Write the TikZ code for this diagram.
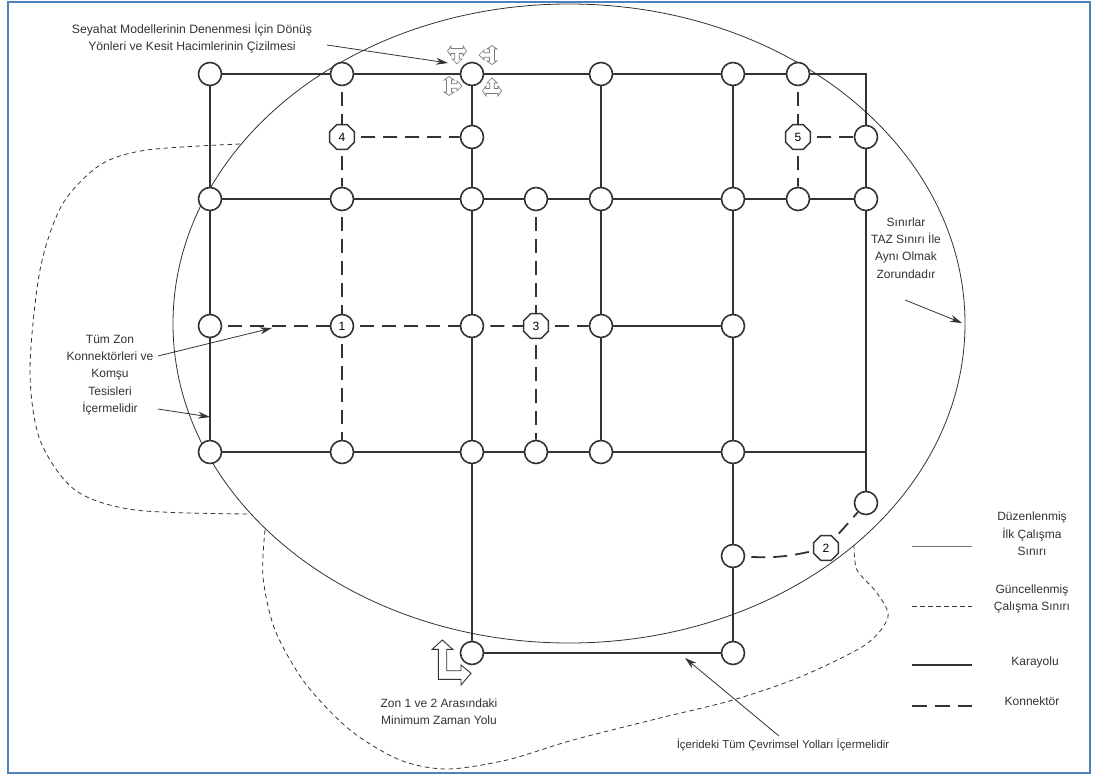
\documentclass[tikz,border=0pt]{standalone}
\usepackage{fontspec}
\setmainfont{Liberation Sans}
\usetikzlibrary{shapes.geometric,arrows.meta}
\definecolor{ink}{HTML}{333333}
\definecolor{frameblue}{HTML}{4F81BD}
\tikzset{
 x=1pt,y=-1pt,
 junc/.style={circle,draw=ink,line width=1.6pt,fill=white,minimum size=23pt,inner sep=0pt,font=\fontsize{12}{12}\selectfont},
 octa/.style={regular polygon,regular polygon sides=8,draw=ink,line width=1.5pt,fill=white,minimum size=27pt,inner sep=0pt,font=\fontsize{12}{12}\selectfont},
 road/.style={draw=ink,line width=1.7pt},
 conn/.style={draw=ink,line width=1.8pt,dash pattern=on 14pt off 8pt,dash phase=16pt},
 bound/.style={draw=ink,line width=.8pt},
 upd/.style={draw=ink,line width=.8pt,dash pattern=on 4.5pt off 3.5pt},
 lbl/.style={align=center,text=ink,inner sep=0pt,font=\fontsize{12}{17.3}\selectfont},
 note/.style={draw=ink,line width=.8pt,-{Stealth[length=12pt,width=7pt]}},
 turn/.style={draw=ink!65,line width=.7pt,fill=white},
 bigturn/.style={draw=ink,line width=.9pt,fill=white}
}
\newcommand{\tarrow}[3]{\begin{scope}[shift={(#1,#2)},rotate=#3]
\draw[turn] (0,13)--(5,8)--(2.2,8)--(2.2,2.5)--(6,2.5)--(6,5)--(9.5,0)--(6,-5)--(6,-2.5)--(-6,-2.5)--(-6,-5)--(-9.5,0)--(-6,5)--(-6,2.5)--(-2.2,2.5)--(-2.2,8)--(-5,8)--cycle;
\end{scope}}
\begin{document}
\begin{tikzpicture}
\useasboundingbox (0,0) rectangle (1093,776);
\fill[white] (0,0) rectangle (1093,776);
\draw[frameblue,line width=2pt] (8,2.5) rectangle (1089.5,773);
% study boundaries
\draw[bound] (569,323.5) ellipse [x radius=396,y radius=319.5];
\draw[upd] plot[smooth] coordinates {(240,144) (147,150) (100,165) (62,205) (40,270) (30,370) (40,440) (75,490) (135,510) (248,514)};
\draw[upd] plot[smooth] coordinates {(265,530) (263,577) (275,630) (305,683) (350,730) (400,760) (447,769) (507,760) (573,740) (660,718) (733,700) (800,677) (865,645) (888,617) (877,593) (857,570) (854,545)};
% nodes
\foreach \n/\x/\y in {a1/210/74,a2/342/74,a3/472/74,a4/601/74,a5/733/74,a6/798/74,
 b3/472/137,b8/866/137,
 c1/210/199,c2/342/199,c3/472/199,c4/536/199,c5/601/199,c6/733/199,c7/798/199,c8/866/199,
 d1/210/326,d3/472/326,d5/601/326,d6/733/326,
 e1/210/452,e2/342/452,e3/472/452,e4/536/452,e5/601/452,e6/733/452,
 f8/866/503,g6/733/556,h3/472/653,h6/733/653}
 {\node[junc] (\n) at (\x,\y) {};}
\node[junc] (d2) at (342,326) {1};
\node[octa] (o2) at (826,548) {2};
\node[octa] (o3) at (536,326) {3};
\node[octa] (o4) at (342,137) {4};
\node[octa] (o5) at (798,137) {5};
% roads
\draw[road] (a1)--(a2); \draw[road] (a2)--(a3); \draw[road] (a3)--(a4); \draw[road] (a4)--(a5); \draw[road] (a5)--(a6);
\draw[road] (a6)-|(b8); \draw[road] (b8)--(c8); \draw[road] (c8)--(f8);
\draw[road] (a1)--(c1); \draw[road] (c1)--(d1); \draw[road] (d1)--(e1);
\draw[road] (c1)--(c2); \draw[road] (c2)--(c3); \draw[road] (c3)--(c4); \draw[road] (c4)--(c5); \draw[road] (c5)--(c6); \draw[road] (c6)--(c7); \draw[road] (c7)--(c8);
\draw[road] (d5)--(d6);
\draw[road] (e1)--(e2); \draw[road] (e2)--(e3); \draw[road] (e3)--(e4); \draw[road] (e4)--(e5); \draw[road] (e5)--(e6);
\coordinate (eend) at (866,452); \draw[road] (e6)--(eend);
\draw[road] (a3)--(b3); \draw[road] (b3)--(c3); \draw[road] (c3)--(d3); \draw[road] (d3)--(e3); \draw[road] (e3)--(h3);
\draw[road] (a4)--(c5); \draw[road] (c5)--(d5); \draw[road] (d5)--(e5);
\draw[road] (a5)--(c6); \draw[road] (c6)--(d6); \draw[road] (d6)--(e6); \draw[road] (e6)--(g6); \draw[road] (g6)--(h6);
\draw[road] (h3)--(h6);
% connectors
\draw[conn] (a2)--(o4); \draw[conn] (o4)--(c2); \draw[conn] (c2)--(d2); \draw[conn] (d2)--(e2);
\draw[conn] (o4)--(b3);
\draw[conn] (d1)--(d2); \draw[conn] (d2)--(d3); \draw[conn] (d3)--(o3); \draw[conn] (o3)--(d5);
\draw[conn] (c4)--(o3); \draw[conn] (o3)--(e4);
\draw[conn] (a6)--(o5); \draw[conn] (o5)--(c7); \draw[conn] (o5)--(b8);
\draw[conn] (g6) to[bend right=8] (o2); \draw[conn] (o2)--(f8);
% turning movements
\tarrow{457}{51}{0}
\tarrow{492}{55}{-90}
\tarrow{449}{86}{90}
\tarrow{492}{91}{180}
\draw[bigturn] (442.3,640)--(432.3,649.3)--(438.3,649.3)--(438.3,679.3)--(461,679.3)--(461,685)--(471,673.3)--(461,665)--(461,670.7)--(446.7,670.7)--(446.7,649.3)--(452.7,649.3)--cycle;
% labels
\node[lbl,font=\fontsize{12.2}{17.6}\selectfont] (t1) at (192,38) {Seyahat Modellerinin Denenmesi İçin Dönüş\\Yönleri ve Kesit Hacimlerinin Çizilmesi};
\node[lbl] (t2) at (110,375) {Tüm Zon\\Konnektörleri ve\\Komşu\\Tesisleri\\İçermelidir};
\node[lbl] (t3) at (906,248) {Sınırlar\\TAZ Sınırı İle\\Aynı Olmak\\Zorundadır};
\node[lbl] (t4) at (439,712) {Zon 1 ve 2 Arasındaki\\Minimum Zaman Yolu};
\node[lbl,font=\fontsize{11.4}{14}\selectfont] (t5) at (783,745) {İçerideki Tüm Çevrimsel Yolları İçermelidir};
\node[lbl] (l1) at (1032,534) {Düzenlenmiş\\İlk Çalışma\\Sınırı};
\node[lbl] (l2) at (1032,599) {Güncellenmiş\\Çalışma Sınırı};
\node[lbl] (l3) at (1035,662) {Karayolu};
\node[lbl] (l4) at (1032,701) {Konnektör};
% note arrows
\coordinate (p1) at (327,45); \coordinate (q1) at (448,63);
\coordinate (p2) at (158,356); \coordinate (q2) at (272,328);
\coordinate (p3) at (158,409); \coordinate (q3) at (210,417);
\coordinate (p4) at (905,300); \coordinate (q4) at (962,323);
\coordinate (p5) at (779,736); \coordinate (q5) at (685,658);
\foreach \i in {1,...,5} {\draw[note] (p\i)--(q\i);}
% legend
\coordinate (k1a) at (912,546); \coordinate (k1b) at (972,546);
\coordinate (k2a) at (912,606); \coordinate (k2b) at (972,606);
\coordinate (k3a) at (912,665); \coordinate (k3b) at (972,665);
\coordinate (k4a) at (912,706); \coordinate (k4b) at (972,706);
\draw[bound,draw=ink!70] (k1a)--(k1b);
\draw[upd] (k2a)--(k2b);
\draw[road] (k3a)--(k3b);
\draw[conn,line width=2.2pt,dash pattern=on 15pt off 8pt,dash phase=0pt] (k4a)--(k4b);
\end{tikzpicture}
\end{document}
